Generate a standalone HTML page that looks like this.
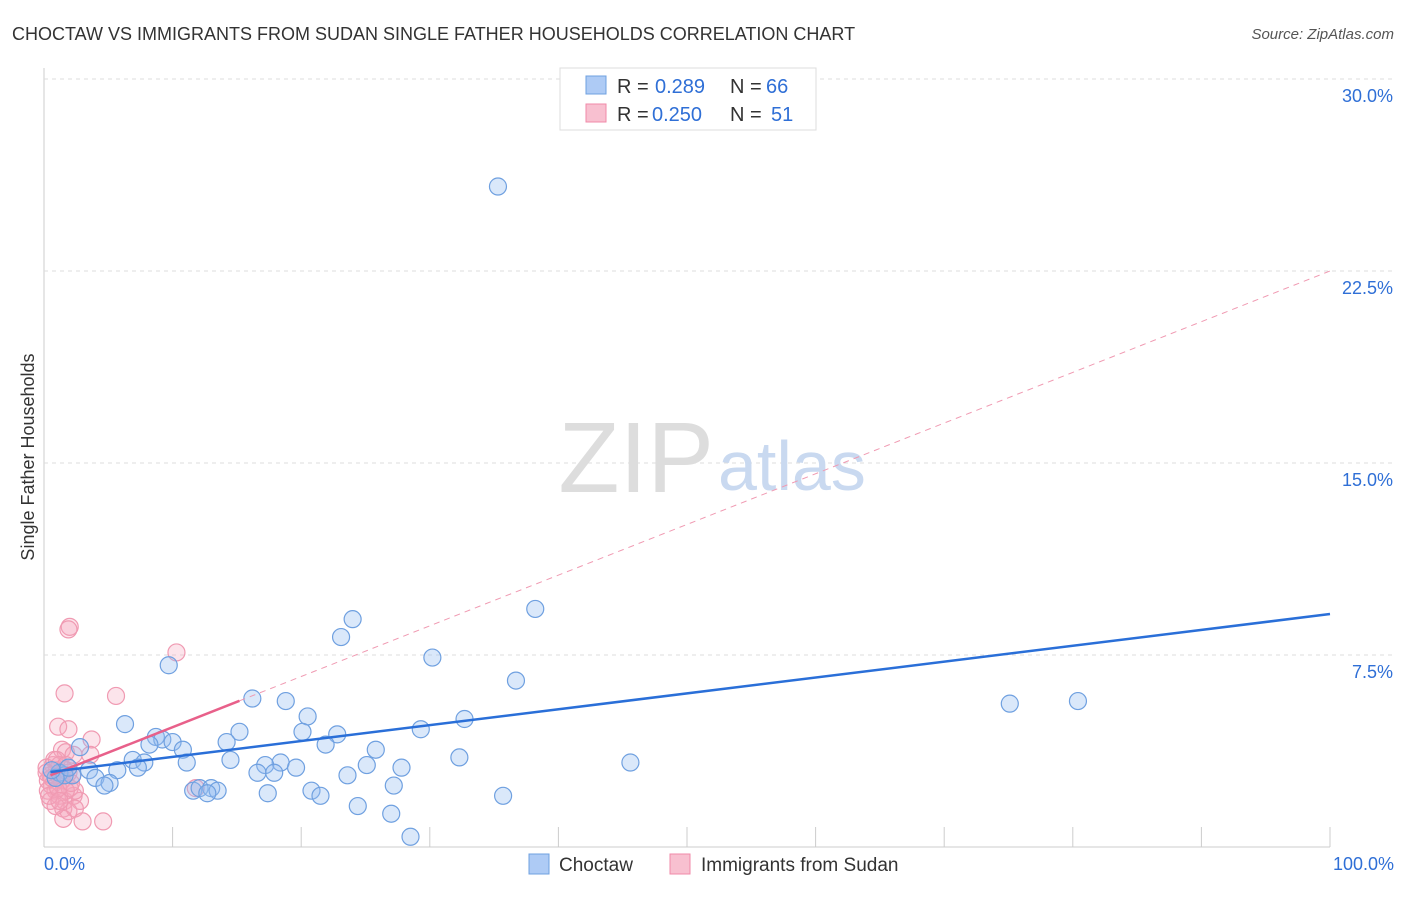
<!DOCTYPE html>
<html><head><meta charset="utf-8"><style>
body{margin:0;background:#fff;font-family:"Liberation Sans",sans-serif;}
svg text{font-family:"Liberation Sans",sans-serif;}
</style></head><body>
<svg id="chart" width="1406" height="892">
<text x="12" y="40" font-size="18" fill="#333">CHOCTAW VS IMMIGRANTS FROM SUDAN SINGLE FATHER HOUSEHOLDS CORRELATION CHART</text>
<text x="1394" y="39" font-size="15" fill="#555" font-style="italic" text-anchor="end">Source: ZipAtlas.com</text>
<text transform="translate(34,457) rotate(-90)" font-size="18" fill="#333" text-anchor="middle">Single Father Households</text>
<g id="grid"></g>
<text x="714" y="492" font-size="100" fill="#ddd" text-anchor="end" font-family="Liberation Serif">ZIP</text>
<text x="718" y="490" font-size="70" fill="#c9d9f0">atlas</text>
<g id="marks"></g>
<g>
<rect x="560" y="68" width="256" height="62" fill="#fff" stroke="#ddd"/>
<rect x="586" y="76" width="20" height="18" fill="#aecbf5" stroke="#6fa0e0"/>
<rect x="586" y="104" width="20" height="18" fill="#f8c0d0" stroke="#f08aa8"/>
<text x="617" y="93" font-size="20" fill="#333">R =</text>
<text x="655" y="93" font-size="20" fill="#2f6fd6">0.289</text>
<text x="730" y="93" font-size="20" fill="#333">N =</text>
<text x="766" y="93" font-size="20" fill="#2f6fd6">66</text>
<text x="617" y="121" font-size="20" fill="#333">R =</text>
<text x="652" y="121" font-size="20" fill="#2f6fd6">0.250</text>
<text x="730" y="121" font-size="20" fill="#333">N =</text>
<text x="771" y="121" font-size="20" fill="#2f6fd6">51</text>
</g>
<g>
<rect x="529" y="854" width="20" height="20" fill="#aecbf5" stroke="#6fa0e0"/>
<text x="559" y="871" font-size="19" fill="#333">Choctaw</text>
<rect x="670" y="854" width="20" height="20" fill="#f8c0d0" stroke="#f08aa8"/>
<text x="701" y="871" font-size="19" fill="#333">Immigrants from Sudan</text>
</g>
</svg>
<script>
const yTicks=[7.5,15.0,22.5,30.0];
const yTickLabels=["7.5%","15.0%","22.5%","30.0%"];
const xTickLabels=["0.0%","100.0%"];
const blueX=[35.3,38.2,24.0,23.1,9.7,30.2,36.7,16.2,18.8,75.1,80.4,6.3,20.5,32.7,29.3,15.2,20.1,22.8,8.7,9.2,8.2,10.0,14.2,2.8,10.8,25.8,21.9,32.3,6.9,7.8,11.1,14.5,18.4,17.2,19.6,7.3,45.6,25.1,27.8,5.7,3.5,16.6,17.9,23.6,2.2,4.0,5.1,4.7,27.2,11.6,12.1,13.0,13.5,12.7,17.4,20.8,21.5,35.7,24.4,27.0,28.5,1.2,1.6,0.9,0.6,1.9];
const blueY=[25.8,9.3,8.9,8.2,7.1,7.4,6.5,5.8,5.7,5.6,5.7,4.8,5.1,5.0,4.6,4.5,4.5,4.4,4.3,4.2,4.0,4.1,4.1,3.9,3.8,3.8,4.0,3.5,3.4,3.3,3.3,3.4,3.3,3.2,3.1,3.1,3.3,3.2,3.1,3.0,3.0,2.9,2.9,2.8,2.8,2.7,2.5,2.4,2.4,2.2,2.3,2.3,2.2,2.1,2.1,2.2,2.0,2.0,1.6,1.3,0.4,2.9,2.8,2.7,3.0,3.1];
const pinkX=[2.0,1.9,10.3,1.6,5.6,1.1,1.9,3.7,1.4,1.7,2.3,3.6,0.7,1.0,0.5,0.3,0.6,0.9,1.2,1.6,2.3,2.8,1.5,1.9,2.4,1.5,3.0,4.6,11.8,0.3,1.1,1.4,0.2,2.0,2.4,0.5,0.9,1.7,2.2,0.8,1.2,1.6,1.9,0.4,1.1,0.6,0.2,1.0,1.7,2.1,1.2];
const pinkY=[8.6,8.5,7.6,6.0,5.9,4.7,4.6,4.2,3.8,3.7,3.6,3.6,3.2,3.0,2.8,2.6,2.4,2.2,2.0,1.8,2.0,1.8,1.5,1.4,1.5,1.1,1.0,1.0,2.3,2.2,2.8,2.6,3.1,2.3,2.2,1.8,1.6,2.2,2.8,3.4,3.2,3.0,2.9,2.0,2.3,2.7,2.9,3.4,3.2,2.5,1.8];
const blueTrend=[2.9,9.1];
const pinkTrend=[2.7,22.5];
const pinkSolidEnd=15.2;
const X=v=>44+v*12.86, Y=v=>847-v*25.6;
const NS="http://www.w3.org/2000/svg";
function mk(tag,attrs,parent){const e=document.createElementNS(NS,tag);for(const k in attrs)e.setAttribute(k,attrs[k]);parent.appendChild(e);return e;}
const grid=document.getElementById('grid'), marks=document.getElementById('marks');
let ax=mk('line',{x1:44,y1:68,x2:44,y2:847,stroke:'#ccc'},grid);


let bx=mk('line',{x1:44,y1:847,x2:1330,y2:847,stroke:'#ccc'},grid);


yTicks.forEach((t,i)=>{
 const g=mk('line',{x1:44,y1:Y(t),x2:1394,y2:Y(t),stroke:'#ddd','stroke-dasharray':'4,4'},grid);
 
 
 const l=mk('text',{x:1393,y:Y(t)+23,'font-size':18,fill:'#2f6fd6','text-anchor':'end'},grid);
 l.textContent=yTickLabels[i];
 
 
});
for(let i=1;i<=10;i++){
 const t=mk('line',{x1:X(i*10),y1:827,x2:X(i*10),y2:847,stroke:'#ccc'},grid);
 
 
}
const xl0=mk('text',{x:44,y:870,'font-size':18,fill:'#2f6fd6'},grid);xl0.textContent=xTickLabels[0];


const xl1=mk('text',{x:1394,y:870,'font-size':18,fill:'#2f6fd6','text-anchor':'end'},grid);xl1.textContent=xTickLabels[1];


pinkX.forEach((x,i)=>{
 const c=mk('circle',{cx:X(x),cy:Y(pinkY[i]),r:8.5,fill:'rgba(245,165,190,0.3)',stroke:'#f09ab2','stroke-width':1.2},marks);
 
 
});
blueX.forEach((x,i)=>{
 const c=mk('circle',{cx:X(x),cy:Y(blueY[i]),r:8.5,fill:'rgba(150,190,240,0.35)',stroke:'#6fa0e0','stroke-width':1.2},marks);
 
 
});
const pY=x=>pinkTrend[0]+(pinkTrend[1]-pinkTrend[0])*x/100;
const bY=x=>blueTrend[0]+(blueTrend[1]-blueTrend[0])*x/100;
let pd=mk('line',{x1:X(pinkSolidEnd),y1:Y(pY(pinkSolidEnd)),x2:X(100),y2:Y(pY(100)),stroke:'#f09ab2','stroke-width':1,'stroke-dasharray':'6,5'},marks);


let ps=mk('line',{x1:X(0.5),y1:Y(pY(0.5)),x2:X(pinkSolidEnd),y2:Y(pY(pinkSolidEnd)),stroke:'#e8608a','stroke-width':2.5},marks);


let bl=mk('line',{x1:X(0.5),y1:Y(bY(0.5)),x2:X(100),y2:Y(bY(100)),stroke:'#2a6fd8','stroke-width':2.5},marks);


</script>
</body></html>
